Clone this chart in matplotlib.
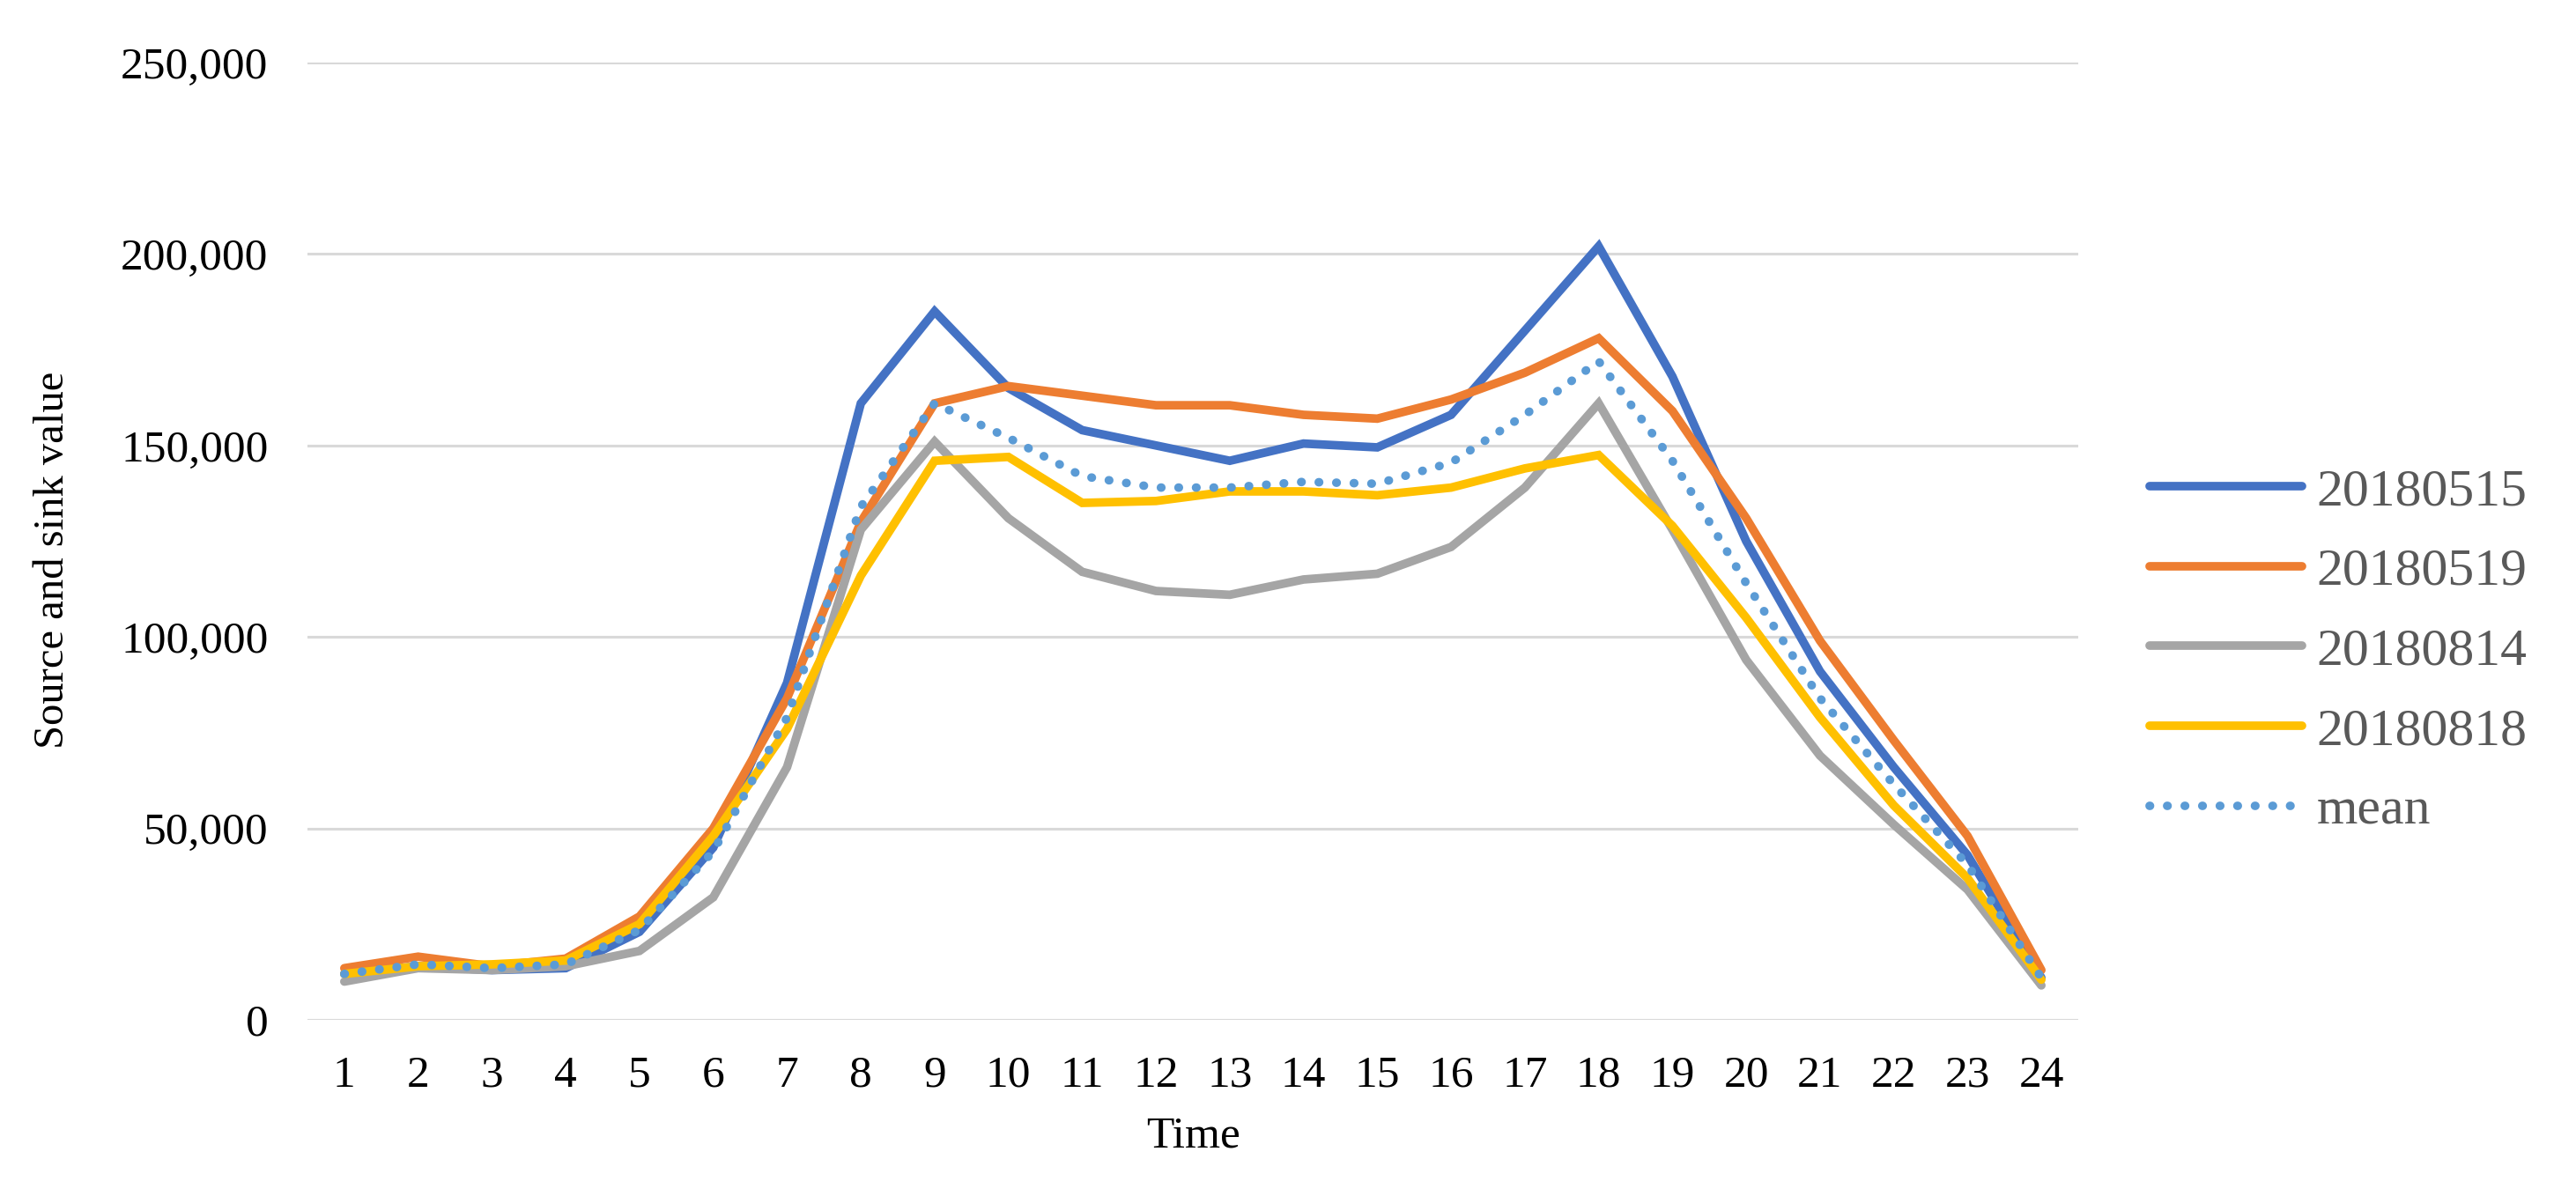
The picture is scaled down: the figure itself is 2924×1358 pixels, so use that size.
import numpy as np
import matplotlib
matplotlib.use("Agg")
import matplotlib.pyplot as plt
from matplotlib.ticker import FuncFormatter

plt.rcParams['font.family'] = ['Liberation Serif', 'DejaVu Serif']

# ============== data ==============
hours = list(range(1, 25))

d20180515 = [12000, 14000, 13000, 13500, 23000, 45000, 88000, 161000, 185000, 165000, 154000, 150000,
             146000, 150500, 149500, 158000, 180000, 202000, 168000, 125000, 91000, 66000, 43000, 11000]
d20180519 = [13500, 16500, 14000, 16000, 27000, 50000, 84000, 130000, 161000, 165500, 163000, 160500,
             160500, 158000, 157000, 162000, 169000, 178000, 159000, 131000, 99000, 73000, 48000, 13000]
d20180814 = [10000, 13500, 13000, 14000, 18000, 32000, 66000, 128000, 151000, 131000, 117000, 112000,
             111000, 115000, 116500, 123500, 139000, 161000, 128000, 94000, 69000, 51000, 34000, 9000]
d20180818 = [12000, 14000, 14500, 15500, 25000, 48000, 76000, 116000, 146000, 147000, 135000, 135500,
             138000, 138000, 137000, 139000, 144000, 147500, 129000, 105000, 79000, 56000, 37000, 10500]
d_mean = [12000, 14500, 13500, 14500, 23500, 44000, 79000, 134000, 161000, 152000, 142000, 139000,
          139000, 140500, 140000, 145500, 158000, 172000, 146000, 114000, 84000, 61500, 40500, 11000]

series_names = ['20180515', '20180519', '20180814', '20180818']
series_vals = [d20180515, d20180519, d20180814, d20180818]
series_colors = ['#4472C4', '#ED7D31', '#A5A5A5', '#FFC000']

# ============== figure ==============
W, H = 2924, 1358
fig = plt.figure(figsize=(W / 100, H / 100), dpi=100)
ax = fig.add_axes([349 / W, 1 - 1158 / H, (2359 - 349) / W, (1158 - 71) / H])

for name, vals, c in zip(series_names, series_vals, series_colors):
    ax.plot(hours, vals, color=c, lw=7, label=name, solid_capstyle='round', solid_joinstyle='miter')
ax.plot(hours, d_mean, color='#5B9BD5', lw=7, label='mean',
        linestyle=(0, (0.05, 2.0)), dash_capstyle='round')

ax.set_xlim(0.5, 24.5)
ax.set_ylim(0, 250000)
ax.set_xticks(hours)
ax.set_yticks(np.arange(0, 250001, 50000))
ax.yaxis.set_major_formatter(FuncFormatter(lambda v, p: f"{int(v):,}"))

ax.grid(axis='y', color='#D9D9D9', lw=2.2)
ax.set_axisbelow(True)
for s in ax.spines.values():
    s.set_visible(False)
ax.tick_params(axis='both', length=0, labelsize=37, colors='#000000')
ax.tick_params(axis='y', pad=32)
ax.tick_params(axis='x', pad=29)

ax.set_xlabel('Time', fontsize=37, va='center')
ax.set_ylabel('Source and sink value', fontsize=35, va='center')
ax.xaxis.set_label_coords(0.5, (1158 - 1290) / (1158 - 71))
ax.yaxis.set_label_coords((60 - 349) / (2359 - 349), 0.48)

leg = fig.legend(loc='center left', bbox_to_anchor=(2386 / W, 1 - 740 / H), frameon=False,
                 fontsize=43, handlelength=2.9, handletextpad=0.28, labelspacing=0.6)
for t in leg.get_texts():
    t.set_color('#595959')

fig.savefig('out.png', dpi=100, facecolor='white')
